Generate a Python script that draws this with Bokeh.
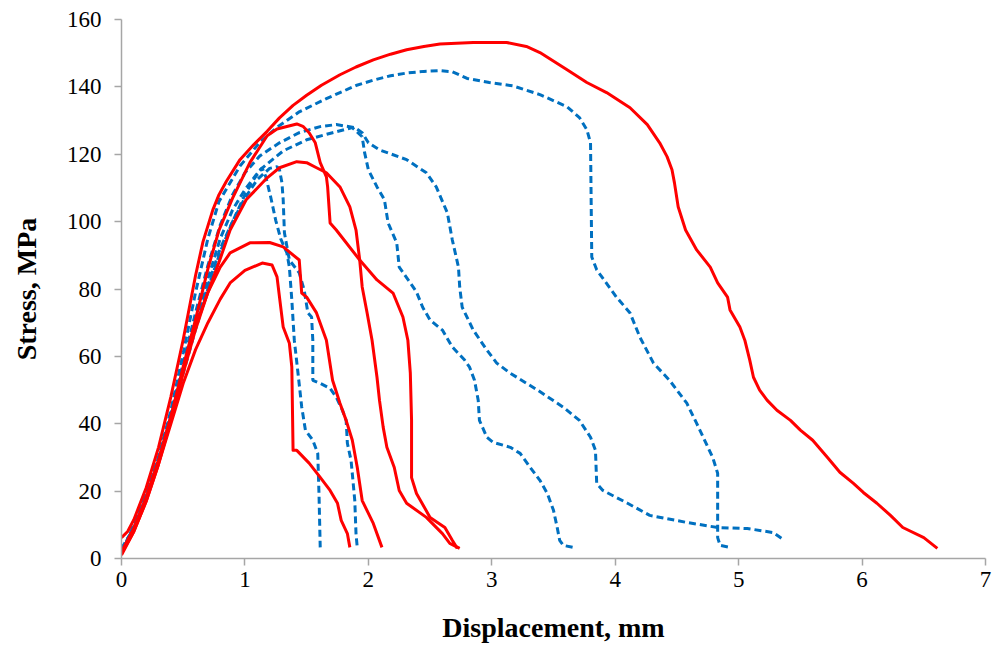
from bokeh.plotting import figure
from bokeh.models import FixedTicker
from bokeh.embed import file_html
from bokeh.resources import INLINE

# ---------------- data ----------------
x_ticks = [0, 1, 2, 3, 4, 5, 6, 7]
y_ticks = [0, 20, 40, 60, 80, 100, 120, 140, 160]

# red solid curves
r1_x = [0, 0.05, 0.1, 0.2, 0.3, 0.4, 0.5, 0.6, 0.66, 0.74, 0.79, 0.85, 0.96, 1.07, 1.18, 1.28, 1.39, 1.5, 1.62,
        1.77, 1.9, 2.04, 2.18, 2.31, 2.45, 2.58, 2.85, 3.12, 3.28, 3.39, 3.61, 3.77, 3.93, 4.12, 4.26, 4.36, 4.42,
        4.46, 4.48, 4.51, 4.57, 4.66, 4.77, 4.83, 4.91, 4.93, 5.01, 5.05, 5.09, 5.12, 5.17, 5.23, 5.31, 5.42,
        5.5, 5.6, 5.72, 5.82, 5.93, 6.01, 6.12, 6.23, 6.33, 6.5, 6.61]
r1_y = [6.2, 8, 11.5, 21, 33, 48, 65, 84, 94, 103.5, 108, 112, 118.4, 122.8, 126.8, 130.8, 134.5, 137.5, 140.5,
        143.6, 145.9, 148.0, 149.7, 151.0, 152.0, 152.7, 153.2, 153.2, 152.0, 150.2, 145.1, 141.3, 138.3, 133.8,
        128.8, 123.4, 119.3, 115.4, 111.5, 104.4, 97.5, 91.6, 86.5, 81.8, 77.6, 73.8, 68.7, 64.8, 58.9, 53.8,
        50.0, 47.0, 44.0, 41.0, 38.1, 35.1, 30.0, 25.6, 22.3, 19.6, 16.4, 12.8, 9.2, 6.2, 3.0]

r2_x = [0, 0.1, 0.2, 0.3, 0.4, 0.5, 0.6, 0.7, 0.79, 0.9, 1.04, 1.18, 1.26, 1.42, 1.47, 1.52, 1.57, 1.61,
        1.66, 1.67, 1.69, 1.74, 1.93, 2.07, 2.2, 2.28, 2.32, 2.34, 2.35, 2.35, 2.39, 2.5, 2.62, 2.68, 2.72]
r2_y = [2, 9, 18, 29, 42, 57, 71, 86, 97.5, 107, 117.5, 125.5, 127.5, 129.0, 128.3, 126.4, 123.4, 117.5,
        113.3, 110.3, 99.6, 97.5, 88.6, 82.7, 78.8, 71.7, 64.8, 55.0, 41.0, 24.0, 19.3, 12.2, 9.2, 5.4, 3.0]

r3_x = [0, 0.1, 0.2, 0.3, 0.4, 0.5, 0.6, 0.7, 0.8, 0.88, 1.01, 1.18, 1.28, 1.42, 1.5, 1.58, 1.66, 1.77,
        1.85, 1.9, 1.93, 1.95, 1.99, 2.03, 2.07, 2.09, 2.12, 2.15, 2.21, 2.25, 2.31, 2.47, 2.6, 2.66, 2.74]
r3_y = [1.5, 8, 17, 28, 41, 55, 68, 79, 89, 97.5, 106.5, 113.0, 116.0, 117.8, 117.5, 116.0, 114.5, 110.3,
        104.4, 97.5, 88.6, 80.6, 72.9, 64.8, 53.8, 47.0, 39.0, 33.0, 27.0, 20.2, 16.4, 12.2, 7.4, 4.5, 3.0]

r4_x = [0, 0.1, 0.2, 0.3, 0.4, 0.5, 0.6, 0.7, 0.8, 0.88, 1.04, 1.2, 1.31, 1.44, 1.46, 1.5, 1.58, 1.66,
        1.71, 1.77, 1.82, 1.87, 1.91, 1.95, 2.04, 2.11]
r4_y = [1.5, 8.5, 18, 29, 42, 56, 69, 79, 86.5, 90.7, 93.7, 93.8, 92.5, 88.6, 78.8, 77.6, 72.9, 64.8,
        52.9, 46.1, 41.0, 35.1, 27.1, 17.2, 10.4, 3.3]

r5_x = [0, 0.1, 0.2, 0.3, 0.4, 0.5, 0.6, 0.7, 0.8, 0.88, 1.0, 1.14, 1.22, 1.26, 1.28, 1.31, 1.36, 1.38,
        1.39, 1.42, 1.52, 1.61, 1.69, 1.75, 1.78, 1.83, 1.85]
r5_y = [1, 8, 17, 28, 40, 52, 62, 70, 77, 81.8, 85.5, 87.7, 87.1, 83.6, 77.6, 68.7, 63.9, 56.8,
        32.1, 32.1, 28.3, 24.1, 20.2, 16.4, 11.3, 7.4, 3.3]

# blue dashed curves
b1_x = [0, 0.1, 0.2, 0.3, 0.4, 0.5, 0.6, 0.7, 0.79, 0.96, 1.12, 1.26, 1.44, 1.66, 1.77, 1.9, 2.04, 2.18, 2.31,
        2.45, 2.58, 2.68, 2.8, 2.98, 3.17, 3.39, 3.61, 3.71, 3.77, 3.8, 3.81, 3.85, 4.01, 4.12, 4.2, 4.31, 4.44,
        4.58, 4.66, 4.79, 4.83, 4.83, 4.85, 4.93]
b1_y = [1.5, 10, 19, 30, 44, 61, 79, 95, 106, 116.5, 123.5, 128.0, 132.6, 136.5, 138.3, 140.4, 142.0, 143.3,
        144.1, 144.6, 144.8, 144.5, 142.5, 141.3, 140.3, 137.7, 134.1, 130.9, 127.3, 123.4, 89.5, 85.7, 77.6,
        72.9, 65.7, 58.0, 52.9, 46.1, 40.1, 30.0, 25.3, 6.2, 3.9, 3.3]

b2_x = [0, 0.1, 0.2, 0.3, 0.4, 0.5, 0.6, 0.7, 0.8, 0.9, 1.0, 1.12, 1.28, 1.44, 1.61, 1.74, 1.89, 1.95,
        2.0, 2.09, 2.31, 2.47, 2.55, 2.64, 2.68, 2.73, 2.74, 2.76, 2.85, 2.96, 3.04, 3.15, 3.37, 3.58, 3.71,
        3.8, 3.84, 3.85, 3.9, 4.1, 4.28, 4.58, 4.83, 5.07, 5.28, 5.35]
b2_y = [2, 9.5, 19, 30, 43, 58, 73, 87, 99, 108, 114.5, 119.5, 123.4, 126.4, 128.2, 128.8, 127.9, 126.4,
        123.4, 121.3, 118.4, 114.5, 110.3, 102.6, 94.6, 86.5, 80.6, 74.6, 67.8, 61.9, 58.0, 55.0, 50.0,
        44.9, 41.0, 36.0, 32.1, 22.3, 20.2, 16.4, 12.8, 10.7, 9.2, 8.9, 7.7, 5.9]

b3_x = [0, 0.1, 0.2, 0.3, 0.4, 0.5, 0.6, 0.7, 0.8, 0.9, 1.0, 1.12, 1.31, 1.5, 1.71, 1.87, 1.95, 1.97,
        2.0, 2.07, 2.13, 2.16, 2.23, 2.25, 2.34, 2.39, 2.44, 2.5, 2.6, 2.68, 2.78, 2.82, 2.86, 2.89, 2.9,
        2.96, 3.01, 3.15, 3.23, 3.31, 3.39, 3.45, 3.5, 3.53, 3.55, 3.58, 3.66]
b3_y = [2.5, 9, 18.5, 29.5, 42, 56, 70, 83, 95, 103.5, 109.5, 115.3, 121.0, 124.3, 126.4, 127.9, 125.2, 120.4,
        115.4, 110.3, 106.5, 99.6, 93.7, 86.5, 81.8, 79.1, 74.6, 70.8, 67.8, 62.8, 58.9, 56.8, 52.9, 47.0,
        41.0, 36.0, 34.5, 33.0, 31.2, 27.1, 23.2, 19.3, 14.3, 9.2, 5.4, 3.9, 3.3]

b4_x = [0, 0.1, 0.2, 0.3, 0.4, 0.5, 0.6, 0.7, 0.8, 0.9, 1.0, 1.1, 1.2, 1.26, 1.28, 1.3, 1.31, 1.32, 1.36,
        1.44, 1.48, 1.51, 1.54, 1.55, 1.55, 1.61, 1.69, 1.74, 1.79, 1.82, 1.83, 1.86, 1.89, 1.9, 1.91]
b4_y = [3, 9, 18, 29, 42, 56, 69, 81, 92, 100, 107, 112.5, 115.8, 116.3, 115.4, 111.5, 106.5, 96.7, 88.6,
        84.8, 79.7, 72.9, 71.7, 64.8, 52.9, 52.0, 50.5, 47.9, 44.0, 41.0, 34.2, 29.1, 17.2, 7.4, 3.3]

b5_x = [0, 0.1, 0.2, 0.3, 0.4, 0.5, 0.6, 0.7, 0.8, 0.9, 1.0, 1.08, 1.14, 1.17, 1.21, 1.25, 1.29, 1.34,
        1.36, 1.38, 1.4, 1.43, 1.46, 1.49, 1.55, 1.59, 1.6, 1.61]
b5_y = [2, 8.5, 17.5, 28.5, 41, 55, 68, 80, 91, 100, 108, 113, 116, 113.2, 107.1, 100.3, 94.9, 90.7,
        86.5, 76.7, 64.8, 55.0, 45.0, 38.1, 35.1, 31.2, 19.3, 3.3]

red_curves = [(r1_x, r1_y), (r2_x, r2_y), (r3_x, r3_y), (r4_x, r4_y), (r5_x, r5_y)]
blue_curves = [(b1_x, b1_y), (b2_x, b2_y), (b3_x, b3_y), (b4_x, b4_y), (b5_x, b5_y)]

# ---------------- figure ----------------
p = figure(width=994, height=650, x_range=(0, 7), y_range=(0, 160),
           output_backend="svg", toolbar_location=None,
           min_border_left=121, min_border_right=9, min_border_top=19, min_border_bottom=92)
p.outline_line_color = None
p.xgrid.visible = False
p.ygrid.visible = False
p.background_fill_color = "white"
p.border_fill_color = "white"

for xs, ys in blue_curves:
    p.line(xs, ys, line_color="#0070C0", line_width=3, line_dash="7 4")
for xs, ys in red_curves:
    p.line(xs, ys, line_color="#FF0000", line_width=3, line_join="round")

axis_gray = "#A6A6A6"
for ax in (p.xaxis[0], p.yaxis[0]):
    ax.axis_line_color = axis_gray
    ax.axis_line_width = 1.5
    ax.major_tick_line_color = axis_gray
    ax.major_tick_line_width = 1.5
    ax.major_tick_in = 0
    ax.major_tick_out = 7
    ax.minor_tick_line_color = None
    ax.major_label_text_font = "Liberation Serif"
    ax.major_label_text_font_size = "23px"
    ax.major_label_text_color = "#000000"
    ax.axis_label_text_font = "Liberation Serif"
    ax.axis_label_text_font_style = "bold"
    ax.axis_label_text_font_size = "28px"
    ax.axis_label_text_color = "#000000"

p.xaxis.ticker = FixedTicker(ticks=x_ticks)
p.yaxis.ticker = FixedTicker(ticks=y_ticks)
p.xaxis.axis_label = "Displacement, mm"
p.yaxis.axis_label = "Stress, MPa"
p.xaxis.major_label_standoff = 6
p.yaxis.major_label_standoff = 13
p.xaxis.axis_label_standoff = 22
p.yaxis.axis_label_standoff = 22

open("out.html", "w").write(file_html(p, INLINE))
